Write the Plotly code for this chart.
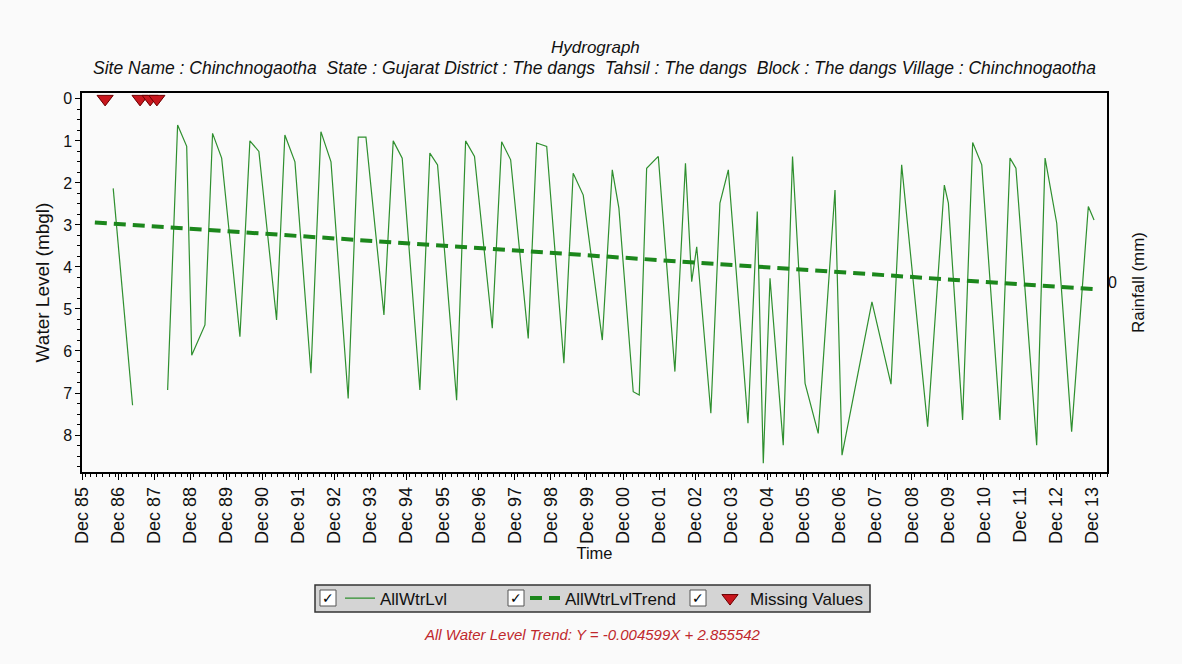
import plotly.graph_objects as go

# ---------------- data ----------------
wl_dates = [
    "1986-10-13", "1987-04-27", "1987-10-01",
    "1988-04-16", "1988-07-26", "1988-10-26", "1988-12-16",
    "1989-04-29", "1989-07-15", "1989-10-15",
    "1990-04-18", "1990-07-28", "1990-10-27",
    "1991-04-24", "1991-07-17", "1991-10-27",
    "1992-04-06", "1992-07-16", "1992-10-26",
    "1993-04-18", "1993-07-29", "1993-10-15",
    "1994-04-15", "1994-07-18", "1994-10-17",
    "1995-04-14", "1995-07-24", "1995-10-10",
    "1996-04-20", "1996-07-20", "1996-10-18",
    "1997-04-16", "1997-07-20", "1997-10-19",
    "1998-04-15", "1998-07-09", "1998-10-19",
    "1999-04-11", "1999-07-14", "1999-10-24",
    "2000-05-04", "2000-08-13", "2000-10-19",
    "2001-03-13", "2001-05-13", "2001-07-27", "2001-11-22",
    "2002-05-09", "2002-08-24", "2002-10-26", "2002-12-16",
    "2003-05-08", "2003-08-08", "2003-11-01",
    "2004-05-18", "2004-08-20", "2004-10-20", "2004-12-27",
    "2005-05-10", "2005-08-12", "2005-12-17",
    "2006-04-29", "2006-10-16", "2006-12-26",
    "2007-10-25", "2008-05-05", "2008-08-21",
    "2009-05-11", "2009-10-27", "2009-12-07",
    "2010-04-30", "2010-08-10", "2010-11-10",
    "2011-05-13", "2011-08-23", "2011-10-22",
    "2012-05-19", "2012-08-12", "2012-12-08",
    "2013-05-08", "2013-10-24", "2013-12-21",
]
wl_values = [
    2.13, 7.29, None,
    6.93, 0.62, 1.13, 6.10,
    5.38, 0.82, 1.41,
    5.66, 1.00, 1.25,
    5.26, 0.86, 1.50,
    6.53, 0.78, 1.50,
    7.13, 0.91, 0.91,
    5.14, 1.00, 1.41,
    6.93, 1.29, 1.57,
    7.17, 1.00, 1.37,
    5.46, 1.02, 1.45,
    5.70, 1.05, 1.13,
    6.29, 1.77, 2.29,
    5.74, 1.69, 2.60,
    6.97, 7.05, 1.65, 1.37,
    6.49, 1.53, 4.35, 3.52,
    7.48, 2.48, 1.69,
    7.72, 2.68, 8.67, 4.27,
    8.24, 1.37, 6.77,
    7.96, 2.17, 8.48,
    4.83, 6.79, 1.57,
    7.80, 2.05, 2.48,
    7.64, 1.04, 1.57,
    7.64, 1.41, 1.65,
    8.24, 1.41, 2.96,
    7.92, 2.56, 2.88,
]

trend_dates = ["1986-04-10", "2014-01-01"]
trend_values = [2.94, 4.53]

missing_dates = ["1986-07-23", "1987-07-12", "1987-10-22", "1987-12-29"]
missing_values = [0, 0, 0, 0]

rain_dates = []
rain_values = []

title_text = "Hydrograph"
subtitle_text = ("Site Name : Chinchnogaotha  State : Gujarat District : The dangs  "
                 "Tahsil : The dangs  Block : The dangs Village : Chinchnogaotha")
equation_text = "All Water Level Trend: Y = -0.004599X + 2.855542"

FONT = "Liberation Sans, Arial, sans-serif"

fig = go.Figure()
fig.add_trace(go.Scatter(
    x=wl_dates, y=wl_values, mode="lines", name="AllWtrLvl",
    line=dict(color="#2e8f2e", width=1.2), connectgaps=False))
fig.add_trace(go.Scatter(
    x=trend_dates, y=trend_values, mode="lines", name="AllWtrLvlTrend",
    line=dict(color="#1c871c", width=4, dash="12px,7px")))
fig.add_trace(go.Scatter(
    x=missing_dates, y=missing_values, mode="markers", name="Missing Values",
    marker=dict(symbol="triangle-down", size=14, color="#c8161d",
                line=dict(color="#6b0000", width=1)),
    cliponaxis=False))
fig.add_trace(go.Scatter(x=rain_dates, y=rain_values, yaxis="y2",
                         mode="lines", showlegend=False))

PL, PR, PT, PB = 82, 1107, 93, 472
def py(p):
    return (PB - p) / (PB - PT)
def px(p):
    return (p - PL) / (PR - PL)

# legend frame and check boxes (decoration)
shapes = [dict(type="rect", xref="paper", yref="paper",
               x0=px(315), x1=px(870), y0=py(585), y1=py(612),
               fillcolor="#d4d4d4", line=dict(color="#333", width=1.5), layer="above")]
annotations = []
for cx in (320, 508, 690):
    shapes.append(dict(type="rect", xref="paper", yref="paper",
                       x0=px(cx), x1=px(cx + 16), y0=py(590), y1=py(606),
                       fillcolor="#ffffff", line=dict(color="#555", width=1), layer="above"))
    annotations.append(dict(text="<b>✓</b>", xref="paper", yref="paper",
                            x=px(cx + 8), y=py(598), xanchor="center", yanchor="middle",
                            showarrow=False, font=dict(size=14, family="DejaVu Sans", color="#000")))

annotations += [
    dict(text="<i>%s</i>" % title_text, xref="paper", yref="paper",
         x=px(595), y=py(47), xanchor="center", yanchor="middle", showarrow=False,
         font=dict(size=17, family=FONT, color="#111")),
    dict(text="<i>%s</i>" % subtitle_text, xref="paper", yref="paper",
         x=px(594), y=py(68), xanchor="center", yanchor="middle", showarrow=False,
         font=dict(size=17.5, family=FONT, color="#111")),
    dict(text="<i>%s</i>" % equation_text, xref="paper", yref="paper",
         x=px(592), y=py(634), xanchor="center", yanchor="middle", showarrow=False,
         font=dict(size=15, family=FONT, color="#c0282d")),
]

fig.update_layout(
    width=1182, height=664,
    margin=dict(l=PL, r=1182 - PR, t=PT, b=664 - PB),
    paper_bgcolor="#fafafa", plot_bgcolor="#fafafa",
    font=dict(family=FONT, color="#111"),
    showlegend=True,
    legend=dict(orientation="h", x=px(340), xanchor="left", y=py(598.5), yanchor="middle",
                bgcolor="rgba(0,0,0,0)", borderwidth=0,
                font=dict(size=17, family=FONT, color="#111"),
                entrywidth=140, itemwidth=30, tracegroupgap=0),
    xaxis=dict(
        type="date", range=["1985-12-01", "2014-05-01"],
        tick0="1985-12-01", dtick="M12", tickformat="%b %y", tickangle=-90,
        ticks="outside", ticklen=6, tickcolor="#000",
        minor=dict(dtick="M2", ticks="outside", ticklen=3, tickcolor="#000"),
        showgrid=False, zeroline=False,
        showline=True, linecolor="#000", linewidth=1.5, mirror=True,
        tickfont=dict(size=18, family=FONT, color="#111"),
        title=dict(text="Time", font=dict(size=16.5, family=FONT, color="#111"), standoff=0),
    ),
    yaxis=dict(
        range=[8.88, -0.14], tickvals=list(range(0, 9)),
        ticks="outside", ticklen=5, tickcolor="#000",
        minor=dict(dtick=0.25, tick0=0, ticks="outside", ticklen=3, tickcolor="#000"),
        showgrid=False, zeroline=False,
        showline=True, linecolor="#000", linewidth=1.5, mirror=True,
        tickfont=dict(size=16, family=FONT, color="#111"),
        title=dict(text="Water Level (mbgl)", font=dict(size=19, family=FONT, color="#111"),
                   standoff=8),
    ),
    yaxis2=dict(
        overlaying="y", side="right", range=[-1, 1], tickvals=[0], ticktext=["0"],
        ticks="", showgrid=False, zeroline=False, showline=False,
        tickfont=dict(size=16, family=FONT, color="#111"),
        title=dict(text="Rainfall (mm)", font=dict(size=17, family=FONT, color="#111"),
                   standoff=16),
    ),
    shapes=shapes,
    annotations=annotations,
)

fig.write_html("out.html", config={"displayModeBar": False},
               post_script="document.body.style.margin='0px';")
